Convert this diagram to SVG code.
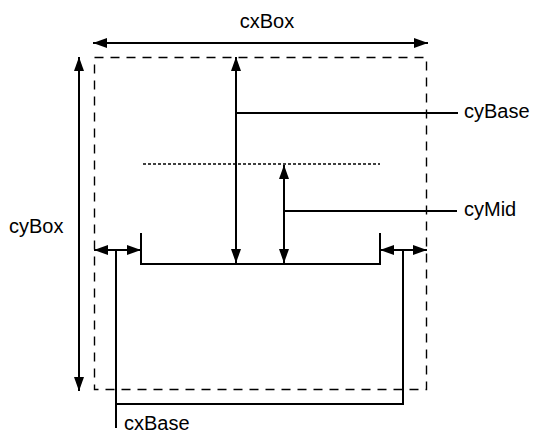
<svg xmlns="http://www.w3.org/2000/svg" width="536" height="433" viewBox="0 0 536 433">
<style>
.l{stroke:#000;stroke-width:2;fill:none}
.a{stroke:#000;stroke-width:2;fill:none;marker-start:url(#ah);marker-end:url(#ah)}
.t{font-family:"Liberation Sans",Arial,sans-serif;font-size:20px;fill:#000}
</style>
<defs>
<marker id="ah" viewBox="0 0 14 10" refX="14" refY="5" markerWidth="14" markerHeight="10" markerUnits="userSpaceOnUse" orient="auto-start-reverse">
<path d="M0,0 L14,5 L0,10 Z" fill="#000"/>
</marker>
</defs>
<rect id="box" x="94.5" y="57.5" width="332" height="332" fill="none" stroke="#000" stroke-width="1.4" stroke-dasharray="9,7"/>
<line id="mid" x1="143" y1="164" x2="380" y2="164" stroke="#000" stroke-width="1.3" stroke-dasharray="3,2"/>
<g id="base"><path class="l" d="M141,233 V264 H380 V233"/></g>
<g id="connectors">
<line class="a" x1="93" y1="43" x2="428" y2="43"/>
<line class="a" x1="79" y1="57" x2="79" y2="391"/>
<line class="a" x1="236" y1="57" x2="236" y2="263"/>
<line class="a" x1="284" y1="165" x2="284" y2="263"/>
<line class="a" x1="94" y1="250" x2="141" y2="250"/>
<line class="a" x1="380" y1="250" x2="427" y2="250"/>
<line class="l" x1="236" y1="113" x2="458" y2="113"/>
<line class="l" x1="284" y1="211" x2="457" y2="211"/>
<path class="l" d="M116,250 V428"/>
<path class="l" d="M116,404 H403 V250"/>
</g>
<g id="labels">
<text class="t" x="267" y="28" text-anchor="middle">cxBox</text>
<text class="t" x="464" y="118">cyBase</text>
<text class="t" x="464" y="216">cyMid</text>
<text class="t" x="9" y="233">cyBox</text>
<text class="t" x="124" y="430">cxBase</text>
</g>
</svg>
